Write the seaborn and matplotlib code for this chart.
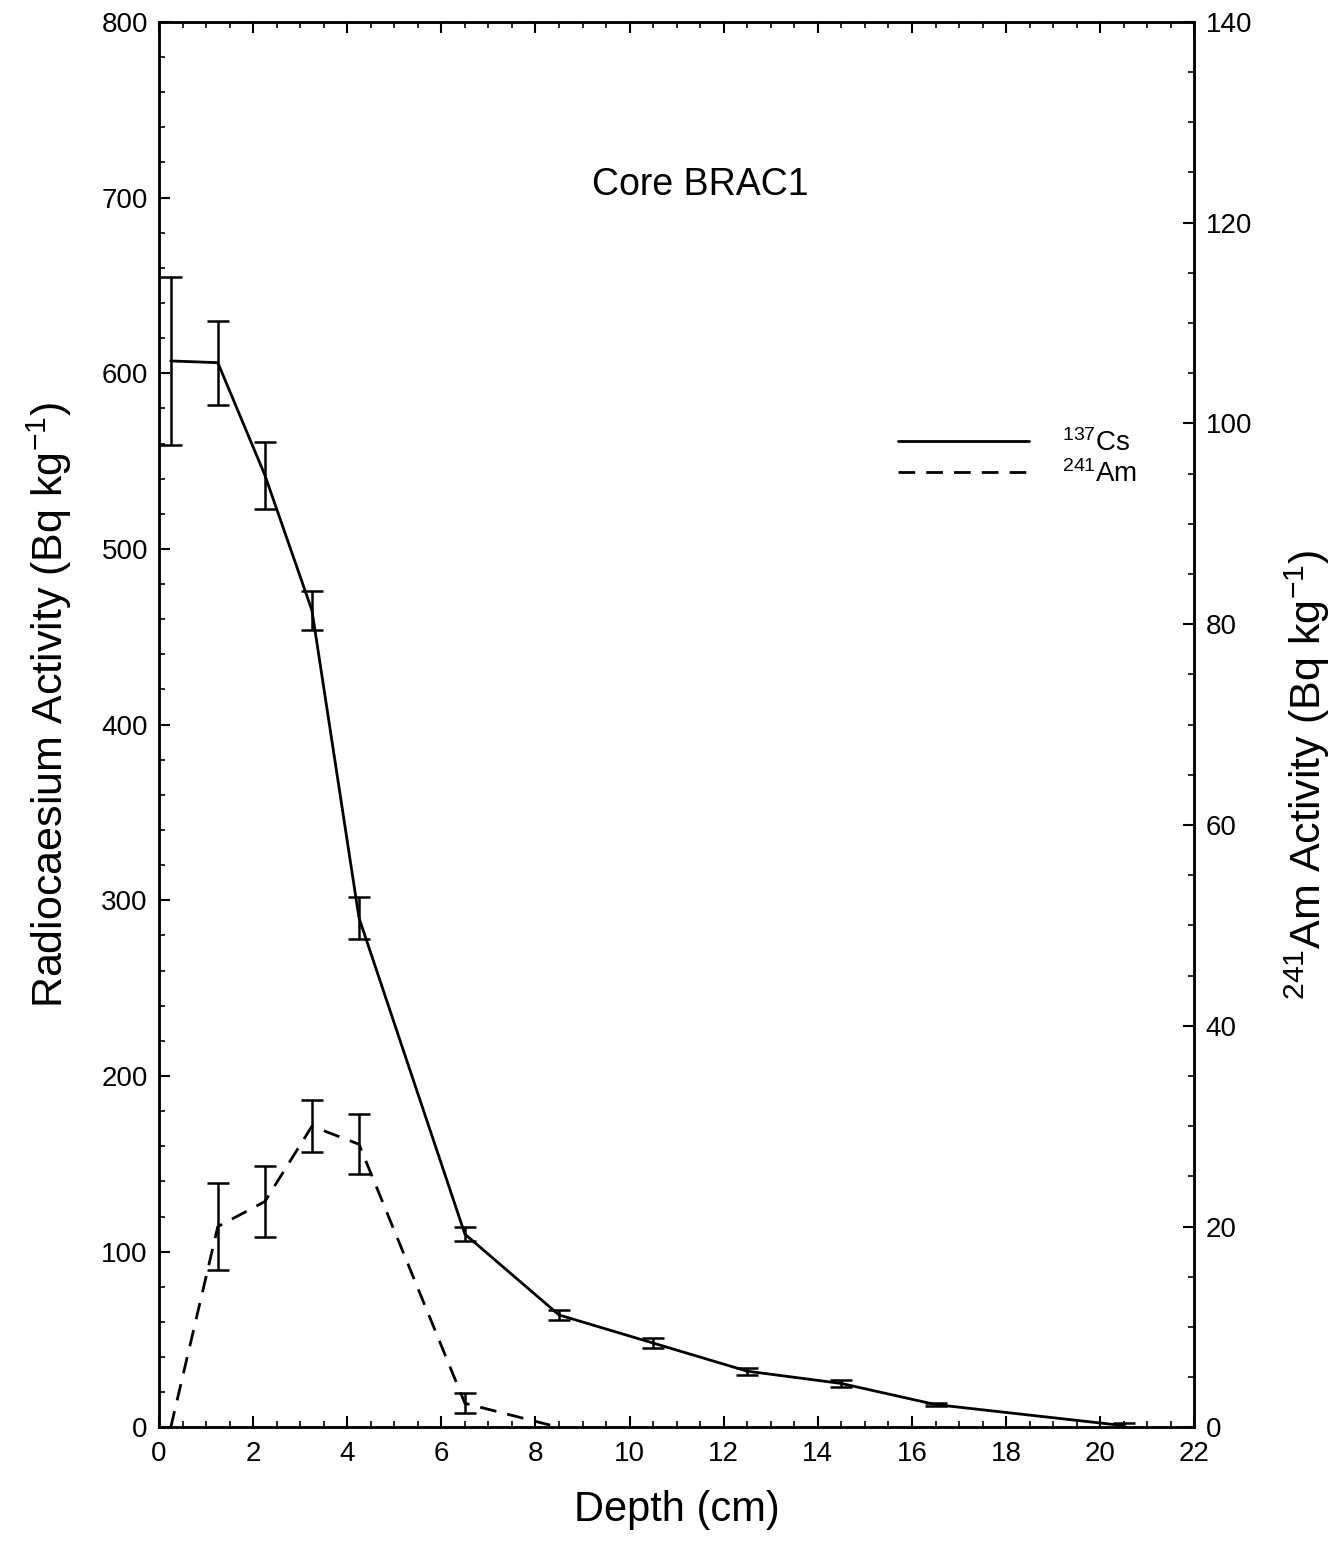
import numpy as np
import pandas as pd
import seaborn as sns
import matplotlib.pyplot as plt
from matplotlib.ticker import MultipleLocator

# 137Cs profile (left axis, Bq/kg)
cs_depth = [0.25, 1.25, 2.25, 3.25, 4.25, 6.5, 8.5, 10.5, 12.5, 14.5, 16.5, 20.5]
cs_value = [607, 606, 542, 465, 290, 110, 64, 48, 32, 25, 13, 1]
cs_err = [48, 24, 19, 11, 12, 4, 3, 3, 2, 2, 1, 1.5]

# 241Am profile (right axis, Bq/kg)
am_depth = [0.25, 1.25, 2.25, 3.25, 4.25, 6.5, 8.5]
am_value = [0, 20.0, 22.5, 30.0, 28.2, 2.4, 0]
am_err = [0, 4.3, 3.5, 2.6, 3.0, 1.0, 0]

sns.set_style("ticks")
plt.rcParams['font.family'] = ['Liberation Sans', 'DejaVu Sans']
plt.rcParams['mathtext.fontset'] = 'custom'
plt.rcParams['mathtext.rm'] = 'Liberation Sans'
plt.rcParams['mathtext.it'] = 'Liberation Sans'
plt.rcParams['text.color'] = 'black'
plt.rcParams['axes.labelcolor'] = 'black'
plt.rcParams['xtick.color'] = 'black'
plt.rcParams['ytick.color'] = 'black'

cs = pd.DataFrame({"depth": cs_depth, "value": cs_value, "err": cs_err})
am = pd.DataFrame({"depth": am_depth, "value": am_value, "err": am_err})

fig = plt.figure(figsize=(13.36, 15.6), dpi=100)
ax = fig.add_axes([0.119, 0.085, 0.775, 0.901])
ax2 = ax.twinx()

sns.lineplot(data=cs, x="depth", y="value", ax=ax, color="black", lw=2, label=r"$^{137}$Cs")
ax.errorbar(cs["depth"], cs["value"], yerr=cs["err"], fmt="none", ecolor="black",
            elinewidth=1.8, capsize=8, capthick=1.8)

sns.lineplot(data=am, x="depth", y="value", ax=ax2, color="black", lw=2,
             linestyle=(0, (6, 4)), label=r"$^{241}$Am")
am_e = am[am["err"] > 0]
ax2.errorbar(am_e["depth"], am_e["value"], yerr=am_e["err"], fmt="none", ecolor="black",
             elinewidth=1.8, capsize=8, capthick=1.8)

ax.set_xlim(0, 22)
ax.set_ylim(0, 800)
ax2.set_ylim(0, 140)

ax.xaxis.set_major_locator(MultipleLocator(2))
ax.xaxis.set_minor_locator(MultipleLocator(0.5))
ax.yaxis.set_major_locator(MultipleLocator(100))
ax.yaxis.set_minor_locator(MultipleLocator(20))
ax2.yaxis.set_major_locator(MultipleLocator(20))
ax2.yaxis.set_minor_locator(MultipleLocator(5))

ax.tick_params(axis="x", which="both", direction="in", top=True, labelsize=20, pad=10)
ax.tick_params(axis="y", which="both", direction="in", right=False, labelsize=20, pad=8)
ax2.tick_params(axis="y", which="both", direction="in", labelsize=20, pad=8)
for a in (ax, ax2):
    a.tick_params(which="major", length=8, width=1.5)
    a.tick_params(which="minor", length=4, width=1.2)
    for s in a.spines.values():
        s.set_linewidth(1.8)
        s.set_color("black")

ax.set_xlabel("Depth (cm)", fontsize=30, labelpad=16)
ax.set_ylabel(r"Radiocaesium Activity (Bq kg$^{-1}$)", fontsize=31)
ax2.set_ylabel(r"$^{241}$Am Activity (Bq kg$^{-1}$)", fontsize=31)
ax.yaxis.set_label_coords(-0.082, 0.514)
ax2.yaxis.set_label_coords(1.085, 0.464)

ax.text(11.5, 707, "Core BRAC1", fontsize=27, ha="center", va="center")

h1, l1 = ax.get_legend_handles_labels()
h2, l2 = ax2.get_legend_handles_labels()
if ax2.get_legend():
    ax2.get_legend().remove()
ax.legend(h1 + h2, l1 + l2, loc="upper left", bbox_to_anchor=(0.69, 0.728), frameon=False,
          fontsize=20, handlelength=4.7, handletextpad=1.2, labelspacing=0.1)

fig.savefig("out.png", dpi=100, facecolor="white")
